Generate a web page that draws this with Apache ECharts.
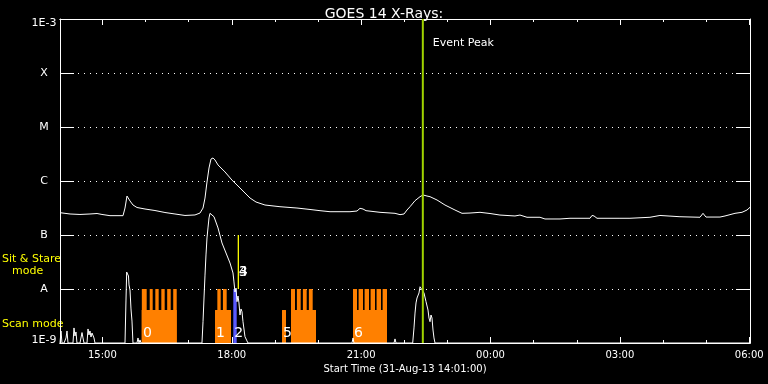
<!DOCTYPE html>
<html><head><meta charset="utf-8">
<script src="https://cdn.jsdelivr.net/npm/echarts@6/dist/echarts.min.js"></script>
<style>html,body{margin:0;padding:0;background:#000;}#c{width:768px;height:384px;}</style>
</head><body><div id="c"></div>
<script>
// ---- axis definitions ----
const startHour = 14 + 1 / 60;          // 31-Aug-13 14:01
const endHour = startHour + 16;         // 01-Sep-13 06:01
const majorTickHours = [15, 18, 21, 24, 27, 30];
const majorTickLabels = ['15:00', '18:00', '21:00', '00:00', '03:00', '06:00'];
const minorTickHours = [15, 16, 17, 18, 19, 20, 21, 22, 23, 24, 25, 26, 27, 28, 29, 30];
const fluxMin = 1e-9, fluxMax = 1e-3;
const levelTickLabels = ['1E-9', 'A', 'B', 'C', 'M', 'X', '1E-3'];

// ---- GOES long channel (1-8 A) ----
const longTimes = [14.017,14.249,14.48,14.712,14.875,14.921,14.99,15.176,15.478,15.524,15.57,15.594,15.64,15.71,15.802,15.988,16.219,16.451,16.683,16.915,17.147,17.263,17.333,17.379,17.425,17.472,17.518,17.565,17.611,17.681,17.843,18.005,18.191,18.423,18.562,18.77,19.118,19.512,19.814,20.046,20.278,20.741,20.904,20.973,21.043,21.113,21.437,21.785,21.901,21.994,22.063,22.133,22.249,22.365,22.435,22.527,22.597,22.759,22.944,23.176,23.339,23.524,23.756,23.988,24.219,24.567,24.683,24.846,25.147,25.263,25.611,25.843,26.307,26.353,26.4,26.469,27.002,27.234,27.697,27.929,28.393,28.857,28.927,28.996,29.321,29.437,29.669,29.831,29.947,30.017];
const longFlux = [2.59e-7,2.45e-7,2.40e-7,2.45e-7,2.50e-7,2.59e-7,2.40e-7,2.28e-7,2.28e-7,3.16e-7,5.27e-7,5.51e-7,4.27e-7,3.59e-7,3.23e-7,3.03e-7,2.84e-7,2.61e-7,2.45e-7,2.30e-7,2.35e-7,2.55e-7,3.16e-7,4.84e-7,9.58e-7,1.74e-6,2.55e-6,2.67e-6,2.45e-6,1.98e-6,1.47e-6,1.04e-6,7.42e-7,4.84e-7,4.08e-7,3.59e-7,3.34e-7,3.16e-7,2.97e-7,2.82e-7,2.70e-7,2.70e-7,2.78e-7,3.12e-7,3.03e-7,2.82e-7,2.63e-7,2.52e-7,2.38e-7,2.45e-7,2.90e-7,3.34e-7,4.32e-7,5.12e-7,5.51e-7,5.27e-7,5.12e-7,4.45e-7,3.59e-7,2.90e-7,2.52e-7,2.55e-7,2.63e-7,2.50e-7,2.34e-7,2.25e-7,2.34e-7,2.13e-7,2.13e-7,1.98e-7,1.98e-7,2.04e-7,2.04e-7,2.30e-7,2.25e-7,2.04e-7,2.04e-7,2.04e-7,2.13e-7,2.30e-7,2.18e-7,2.13e-7,2.52e-7,2.15e-7,2.15e-7,2.25e-7,2.52e-7,2.63e-7,2.90e-7,3.26e-7];

// ---- GOES short channel (0.5-4 A) ----
const shortTimes = [14.017,14.04,14.063,14.11,14.156,14.179,14.202,14.318,14.341,14.364,14.387,14.41,14.48,14.527,14.55,14.573,14.643,14.666,14.689,14.712,14.735,14.759,14.805,14.828,15.524,15.547,15.563,15.582,15.605,15.617,15.64,15.663,15.686,15.709,15.802,15.825,15.848,15.872,15.895,17.309,17.333,17.356,17.379,17.402,17.425,17.448,17.472,17.495,17.541,17.588,17.681,17.773,17.866,17.959,18.028,18.051,18.074,18.098,18.121,18.144,18.167,18.19,18.214,18.237,18.26,18.306,18.353,18.376,20.788,20.811,20.834,21.762,21.785,21.808,22.195,22.225,22.249,22.272,22.295,22.341,22.365,22.388,22.411,22.457,22.504,22.527,22.55,22.573,22.597,22.62,22.643,22.666,22.689,22.713,30.017];
const shortFlux = [1e-9,1.67e-9,1e-9,1e-9,1.24e-9,1.67e-9,1e-9,1e-9,1.90e-9,1.35e-9,1.6e-9,1e-9,1e-9,1.56e-9,1.24e-9,1e-9,1e-9,1.82e-9,1.41e-9,1.67e-9,1.29e-9,1.53e-9,1.24e-9,1e-9,1e-9,6.25e-9,2.06e-8,2.16e-8,1.74e-8,1.19e-8,9.58e-9,4.27e-9,2.55e-9,1e-9,1e-9,1.24e-9,1e-9,1.14e-9,1e-9,1e-9,2.48e-9,6.81e-9,1.81e-8,4.27e-8,8.80e-8,1.35e-7,2.07e-7,2.52e-7,2.63e-7,2.18e-7,1.35e-7,7.11e-8,4.64e-8,3.03e-8,1.98e-8,1.35e-8,8.80e-9,1.04e-8,5.82e-9,7.42e-9,5.51e-9,3.30e-9,4.27e-9,3.80e-9,2.48e-9,1.31e-9,1.09e-9,1e-9,1e-9,1.24e-9,1e-9,1e-9,1.19e-9,1e-9,1e-9,1.90e-9,3.59e-9,5.51e-9,6.81e-9,8.44e-9,1.10e-8,1.05e-8,1.14e-8,8.44e-9,5.82e-9,6.25e-9,4.08e-9,2.90e-9,2.48e-9,3.30e-9,2.90e-9,1.74e-9,1.24e-9,1e-9,1e-9];

// ---- observing-mode timeline [start hour, end hour] ----
const scanBaseLevel = 1e-9, scanSolidLevel = 4.08e-9, scanTopLevel = 1e-8, sitStareTopLevel = 1e-7;
const scanSolid = [[15.911,16.723],[17.611,17.982],[19.165,19.257],[19.373,19.953],[20.811,21.599]];
const scanTeeth = [[15.914,16.027],[16.097,16.166],[16.227,16.305],[16.366,16.444],[16.502,16.584],[16.642,16.723],
  [17.665,17.743],[17.795,17.882],
  [19.373,19.466],[19.510,19.598],[19.649,19.737],[19.788,19.876],
  [20.811,20.904],[20.941,21.043],[21.080,21.182],[21.219,21.321],[21.358,21.460],[21.498,21.599]];
const scanOther = [[18.035,18.114]];
const sitStare = [[18.137,18.167]];
const eventLabels = ['0','1','2','3','4','5','6'];
const eventStarts = [15.918,17.611,18.035,18.137,18.137,19.165,20.811];
const eventLevels = [1.53e-9,1.53e-9,1.53e-9,2.06e-8,2.06e-8,1.53e-9,1.53e-9];
const eventPeakHour = [22.43];

const FONT = '"DejaVu Sans", sans-serif';
const chart = echarts.init(document.getElementById('c'), null, {renderer: 'canvas'});

function fmtHour(v) {
  const i = majorTickHours.findIndex(h => Math.abs(h - v) < 1e-6);
  return i >= 0 ? majorTickLabels[i] : '';
}
function fmtLevel(v) {
  const k = Math.round(Math.log10(v)) + 9;
  const s = levelTickLabels[k] || '';
  if (k === levelTickLabels.length - 1) return '{top|' + s + '}';
  if (k === 0) return '{bot|' + s + '}';
  return s;
}
function rectSeries(intervals, bottom, top, color) {
  return {
    type: 'custom', xAxisIndex: 0, yAxisIndex: 0, silent: true, z: 2,
    encode: {x: [0, 1], y: [2, 3]},
    data: intervals.map(d => [d[0], d[1], bottom, top]),
    renderItem: (params, api) => {
      const p0 = api.coord([api.value(0), api.value(2)]);
      const p1 = api.coord([api.value(1), api.value(3)]);
      return {type: 'rect', shape: {x: p0[0], y: p1[1], width: p1[0] - p0[0], height: p0[1] - p1[1]},
        style: {fill: color}};
    }
  };
}
const xBase = {type: 'value', min: startHour, max: endHour, splitLine: {show: false},
  axisLine: {show: true, lineStyle: {color: '#fff', width: 1}}};
const option = {
  backgroundColor: '#000',
  animation: false,
  title: {text: 'GOES 14 X-Rays:', left: 'center', top: 2,
    textStyle: {color: '#fff', fontSize: 14, fontWeight: 'normal', fontFamily: FONT}},
  grid: {left: 60, right: 18, top: 19, bottom: 41, containLabel: false},
  xAxis: [
    Object.assign({}, xBase, {position: 'bottom',
      axisTick: {inside: true, length: 6, customValues: majorTickHours, lineStyle: {color: '#fff'}},
      axisLabel: {customValues: majorTickHours, formatter: fmtHour, color: '#fff', fontSize: 10, fontFamily: FONT, margin: 7},
      name: 'Start Time (31-Aug-13 14:01:00)', nameLocation: 'middle', nameGap: 20,
      nameTextStyle: {color: '#fff', fontSize: 10, fontFamily: FONT}}),
    Object.assign({}, xBase, {position: 'bottom',
      axisTick: {inside: true, length: 3, customValues: minorTickHours, lineStyle: {color: '#fff'}},
      axisLabel: {show: false}}),
    Object.assign({}, xBase, {position: 'top',
      axisTick: {inside: true, length: 6, customValues: majorTickHours, lineStyle: {color: '#fff'}},
      axisLabel: {show: false}}),
    Object.assign({}, xBase, {position: 'top',
      axisTick: {inside: true, length: 3, customValues: minorTickHours, lineStyle: {color: '#fff'}},
      axisLabel: {show: false}})
  ],
  yAxis: [
    {type: 'log', logBase: 10, min: fluxMin, max: fluxMax, interval: 1, position: 'left',
      axisLine: {show: true, lineStyle: {color: '#fff'}},
      axisTick: {show: true, inside: true, length: 14, lineStyle: {color: '#fff'}},
      axisLabel: {color: '#fff', fontSize: 11, fontFamily: FONT, align: 'center', margin: 16,
        showMinLabel: true, showMaxLabel: true, formatter: fmtLevel,
        rich: {top: {color: '#fff', fontSize: 11, fontFamily: FONT, padding: [8, 0, 0, 0]},
               bot: {color: '#fff', fontSize: 11, fontFamily: FONT, padding: [0, 0, 6, 0]}}},
      splitLine: {show: true, lineStyle: {color: '#fff', type: [1, 5], width: 1}}},
    {type: 'log', logBase: 10, min: fluxMin, max: fluxMax, interval: 1, position: 'right',
      axisLine: {show: true, lineStyle: {color: '#fff'}},
      axisTick: {show: true, inside: true, length: 14, lineStyle: {color: '#fff'}},
      axisLabel: {show: false}, splitLine: {show: false}}
  ],
  graphic: [
    {type: 'text', left: 2, top: 254, style: {text: 'Sit & Stare', fill: '#ffff00', font: '11px ' + FONT}},
    {type: 'text', left: 12, top: 266, style: {text: 'mode', fill: '#ffff00', font: '11px ' + FONT}},
    {type: 'text', left: 2, top: 319, style: {text: 'Scan mode', fill: '#ffff00', font: '11px ' + FONT}}
  ],
  series: [
    rectSeries(scanSolid, scanBaseLevel, scanSolidLevel, '#ff8000'),
    rectSeries(scanTeeth, scanBaseLevel, scanTopLevel, '#ff8000'),
    rectSeries(scanOther, scanBaseLevel, scanTopLevel, '#5a5aff'),
    rectSeries(sitStare, scanTopLevel, sitStareTopLevel, '#ffff00'),
    {type: 'line', xAxisIndex: 0, yAxisIndex: 0, showSymbol: false, z: 3,
      data: longTimes.map((t, i) => [t, longFlux[i]]),
      lineStyle: {color: '#fff', width: 1}},
    {type: 'line', xAxisIndex: 0, yAxisIndex: 0, showSymbol: false, z: 3,
      data: shortTimes.map((t, i) => [t, shortFlux[i]]),
      lineStyle: {color: '#fff', width: 1}},
    {type: 'custom', xAxisIndex: 0, yAxisIndex: 0, silent: true, z: 4,
      data: eventLabels.map((s, i) => [eventStarts[i], eventLevels[i], s]),
      renderItem: (params, api) => {
        const p = api.coord([api.value(0), api.value(1)]);
        return {type: 'text', x: p[0] + 1, y: p[1],
          style: {text: eventLabels[params.dataIndex], fill: '#fff', font: '14px ' + FONT,
            align: 'left', verticalAlign: 'middle'}};
      }},
    {type: 'custom', xAxisIndex: 0, yAxisIndex: 0, silent: true, z: 5,
      data: eventPeakHour.map(t => [t]),
      renderItem: (params, api) => {
        const top = api.coord([api.value(0), fluxMax]);
        const bot = api.coord([api.value(0), fluxMin]);
        return {type: 'group', children: [
          {type: 'line', shape: {x1: top[0], y1: top[1], x2: bot[0], y2: bot[1]},
            style: {stroke: '#a0d200', lineWidth: 2}},
          {type: 'text', x: top[0] + 10, y: top[1] + 24,
            style: {text: 'Event Peak', fill: '#fff', font: '11px ' + FONT, align: 'left', verticalAlign: 'middle'}}
        ]};
      }}
  ]
};
chart.setOption(option);
</script></body></html>
